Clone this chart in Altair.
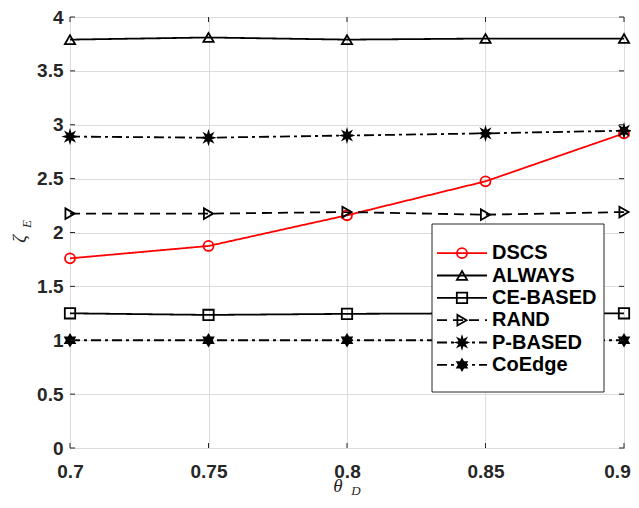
import altair as alt
import pandas as pd

theta = [0.7, 0.75, 0.8, 0.85, 0.9]
series_names = ["DSCS", "ALWAYS", "CE-BASED", "RAND", "P-BASED", "CoEdge"]
dscs = [1.76, 1.875, 2.16, 2.475, 2.92]
always = [3.79, 3.81, 3.79, 3.80, 3.80]
ce_based = [1.25, 1.235, 1.245, 1.25, 1.25]
rand = [2.175, 2.175, 2.19, 2.165, 2.19]
p_based = [2.89, 2.88, 2.90, 2.92, 2.945]
coedge = [1.0, 1.0, 1.0, 1.0, 1.0]
x_ticks = [0.7, 0.75, 0.8, 0.85, 0.9]
y_ticks = [0, 0.5, 1, 1.5, 2, 2.5, 3, 3.5, 4]

values = [dscs, always, ce_based, rand, p_based, coedge]
rows = []
for name, vals in zip(series_names, values):
    for t, v in zip(theta, vals):
        rows.append({"theta": t, "zeta": v, "series": name})
df = pd.DataFrame(rows)
legend_df = pd.DataFrame({"series": series_names})

W, H = 554, 431

star8 = ("M0,-1L0.172,-0.416L0.707,-0.707L0.416,-0.172L1,0L0.416,0.172L0.707,0.707"
         "L0.172,0.416L0,1L-0.172,0.416L-0.707,0.707L-0.416,0.172L-1,0L-0.416,-0.172"
         "L-0.707,-0.707L-0.172,-0.416Z")
hexagram = ("M0,-1L0.289,-0.5L0.866,-0.5L0.577,0L0.866,0.5L0.289,0.5L0,1L-0.289,0.5"
            "L-0.866,0.5L-0.577,0L-0.866,-0.5L-0.289,-0.5Z")

color_scale = alt.Scale(domain=series_names,
                        range=["#ff0000", "#000000", "#000000", "#000000", "#000000", "#000000"])
dash_scale = alt.Scale(domain=series_names,
                       range=[[1, 0], [1, 0], [1, 0], [10, 6], [10, 4, 3, 4], [10, 4, 3, 4]])
shape_scale = alt.Scale(domain=series_names,
                        range=["circle", "triangle-up", "square", "triangle-right", star8, hexagram])
fill_scale = alt.Scale(domain=series_names,
                       range=["transparent", "transparent", "transparent", "transparent", "#000000", "#000000"])
size_scale = alt.Scale(domain=series_names, range=[100, 120, 40, 100, 55, 110])

x_enc = alt.X("theta:Q", scale=alt.Scale(domain=[0.7, 0.9], nice=False),
              axis=alt.Axis(values=x_ticks, format="~g", title=None, ticks=False, domain=False,
                            grid=True, gridColor="#dcdcdc", labelFont="Liberation Sans",
                            labelFontWeight="bold", labelFontSize=19, labelColor="#262626",
                            labelPadding=14, labelFlush=False,
                            labelOffset={"condition": {"test": "datum.value > 0.89", "value": -7},
                                         "value": 0}))
y_enc = alt.Y("zeta:Q", scale=alt.Scale(domain=[0, 4], nice=False),
              axis=alt.Axis(values=y_ticks, format="~g", title=None, ticks=False, domain=False,
                            grid=True, gridColor="#dcdcdc", labelFont="Liberation Sans",
                            labelFontWeight="bold", labelFontSize=19, labelColor="#262626",
                            labelPadding=7))

lines = alt.Chart(df).mark_line(strokeWidth=1.8).encode(
    x=x_enc, y=y_enc,
    color=alt.Color("series:N", scale=color_scale, legend=None),
    strokeDash=alt.StrokeDash("series:N", scale=dash_scale, legend=None),
    detail="series:N",
)
points = alt.Chart(df).mark_point(filled=False, strokeWidth=1.8, opacity=1).encode(
    x="theta:Q", y="zeta:Q",
    color=alt.Color("series:N", scale=color_scale, legend=None),
    shape=alt.Shape("series:N", scale=shape_scale, legend=None),
    fill=alt.Fill("series:N", scale=fill_scale, legend=None),
    size=alt.Size("series:N", scale=size_scale, legend=None),
)

xt = pd.DataFrame({"theta": x_ticks})
yt = pd.DataFrame({"zeta": y_ticks})
tick_top = alt.Chart(xt).mark_rule(color="#262626").encode(x="theta:Q", y=alt.value(0), y2=alt.value(5))
tick_bot = alt.Chart(xt).mark_rule(color="#262626").encode(x="theta:Q", y=alt.value(H), y2=alt.value(H - 5))
tick_left = alt.Chart(yt).mark_rule(color="#262626").encode(y="zeta:Q", x=alt.value(0), x2=alt.value(5))
tick_right = alt.Chart(yt).mark_rule(color="#262626").encode(y="zeta:Q", x=alt.value(W), x2=alt.value(W - 5))

main = alt.layer(lines, points, tick_top, tick_bot, tick_left, tick_right)

# legend
box = alt.Chart(pd.DataFrame({"k": [0]})).mark_rect(fill="white", stroke="#262626", strokeWidth=1).encode(
    x=alt.value(362), x2=alt.value(534), y=alt.value(207), y2=alt.value(375))


def leg_y():
    return alt.Y("series:N", scale=alt.Scale(domain=series_names, range=[225, 359], padding=0), axis=None)


leg_lines = alt.Chart(legend_df).mark_rule(strokeWidth=1.8).encode(
    y=leg_y(), x=alt.value(367), x2=alt.value(417),
    color=alt.Color("series:N", scale=color_scale, legend=None),
    strokeDash=alt.StrokeDash("series:N", scale=dash_scale, legend=None),
)
leg_pts = alt.Chart(legend_df).mark_point(filled=False, strokeWidth=1.8, opacity=1).encode(
    y=leg_y(), x=alt.value(392),
    color=alt.Color("series:N", scale=color_scale, legend=None),
    shape=alt.Shape("series:N", scale=shape_scale, legend=None),
    fill=alt.Fill("series:N", scale=fill_scale, legend=None),
    size=alt.Size("series:N", scale=size_scale, legend=None),
)
leg_text = alt.Chart(legend_df).mark_text(align="left", baseline="middle", font="Liberation Sans",
                                          fontWeight="bold", fontSize=20, color="#000000").encode(
    y=leg_y(), x=alt.value(422), text="series:N")
legend = alt.layer(box, leg_lines, leg_pts, leg_text)

# axis titles
one = pd.DataFrame({"k": [0]})
xt1 = alt.Chart(one).mark_text(font="Liberation Serif", fontStyle="italic", fontSize=19,
                               baseline="middle", align="center", color="#262626").encode(
    x=alt.value(268), y=alt.value(469), text=alt.value("θ"))
xt2 = alt.Chart(one).mark_text(font="Liberation Serif", fontStyle="italic", fontSize=13,
                               baseline="middle", align="center", color="#262626").encode(
    x=alt.value(286), y=alt.value(474), text=alt.value("D"))
yt1 = alt.Chart(one).mark_text(font="Liberation Serif", fontStyle="italic", fontSize=19, angle=270,
                               baseline="middle", align="center", color="#262626").encode(
    x=alt.value(-50), y=alt.value(222), text=alt.value("ζ"))
yt2 = alt.Chart(one).mark_text(font="Liberation Serif", fontStyle="italic", fontSize=13, angle=270,
                               baseline="middle", align="center", color="#262626").encode(
    x=alt.value(-43), y=alt.value(207), text=alt.value("E"))
titles = alt.layer(xt1, xt2, yt1, yt2)

chart = alt.layer(main, legend, titles).resolve_scale(y="independent").properties(
    width=W, height=H,
    autosize=alt.AutoSizeParams(type="none"),
    padding={"left": 62, "top": 9, "right": 7, "bottom": 51},
).configure_view(stroke="#262626", strokeWidth=1)

chart.save("out.html", embed_options={"renderer": "svg", "actions": False})
